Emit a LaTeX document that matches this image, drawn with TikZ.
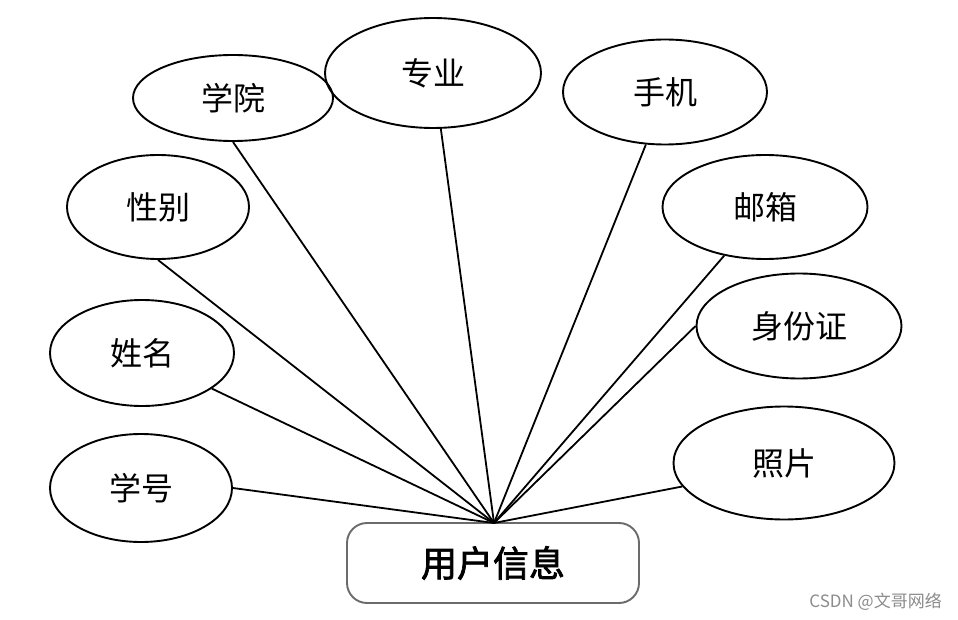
\documentclass[tikz,border=0pt]{standalone}
\usepackage{fontspec}
\setmainfont{Noto Sans CJK SC}
\newfontfamily\cjk{Noto Sans CJK SC}
\newfontfamily\cjkbold[FakeBold=2]{Noto Sans CJK SC}
\usetikzlibrary{shapes.geometric}
\begin{document}
\begin{tikzpicture}[x=1pt,y=-1pt,
  attr/.style={draw=black,line width=1.9pt,ellipse,inner sep=0pt,font=\cjk\fontsize{32}{34}\selectfont},
  entity/.style={draw=black!58,line width=1.9pt,rounded corners=20pt,inner sep=0pt,font=\cjkbold\fontsize{36}{38}\selectfont},
  link/.style={line width=1.8pt,black}]
\useasboundingbox[fill=white] (0,0) rectangle (958,620);
% central entity
\node[entity,minimum width=292pt,minimum height=80pt] (user) at (493,563) {用户信息};
\coordinate (hub) at (494,523);
% attributes
\node[attr,minimum width=200pt,minimum height=86pt] (xueyuan) at (233,98) {学院};
\node[attr,minimum width=216pt,minimum height=110pt] (zhuanye) at (433,73) {专业};
\node[attr,minimum width=204pt,minimum height=105pt] (shouji) at (665,92) {手机};
\node[attr,minimum width=182pt,minimum height=104pt] (xingbie) at (158,207) {性别};
\node[attr,minimum width=205pt,minimum height=104pt] (youxiang) at (765,207) {邮箱};
\node[attr,minimum width=184pt,minimum height=106pt] (xingming) at (142,353) {姓名};
\node[attr,minimum width=205pt,minimum height=105pt] (shenfen) at (799,326) {身份证};
\node[attr,minimum width=182pt,minimum height=108pt] (xuehao) at (141,488) {学号};
\node[attr,minimum width=221pt,minimum height=113pt] (zhaopian) at (784,463) {照片};
% connectors
\draw[link] (hub) -- (xuehao.east);
\draw[link] (hub) -- (xingming.-27);
\draw[link] (hub) -- (xingbie.south);
\draw[link] (hub) -- (xueyuan.south);
\draw[link] (hub) -- (zhuanye.-82);
\draw[link] (hub) -- (shouji.-110);
\draw[link] (hub) -- (youxiang.-130);
\draw[link] (hub) -- (shenfen.west);
\draw[link] (hub) -- (zhaopian.-167);
% watermark
\node[anchor=east,text=black!45,font=\cjk\fontsize{17}{19}\selectfont,inner sep=0pt] (wm) at (942,602) {CSDN @文哥网络};
\end{tikzpicture}
\end{document}
